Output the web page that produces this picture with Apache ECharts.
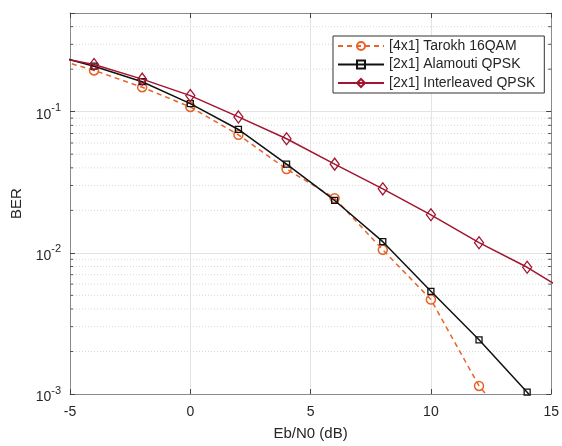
<!DOCTYPE html>
<html>
<head>
<meta charset="utf-8">
<script src="https://cdn.jsdelivr.net/npm/echarts@6/dist/echarts.min.js"></script>
<style>
  html, body { margin: 0; padding: 0; background: #fff; }
  #chart { width: 562px; height: 446px; }
</style>
</head>
<body>
<div id="chart"></div>
<script>
// Eb/N0 sample points (dB); the outer points lie past the axis limits and are clipped
const ebn0 = [-6, -4, -2, 0, 2, 4, 6, 8, 10, 12, 14, 16];

// Bit error rates per scheme
const tarokh16qam = [0.248, 0.196, 0.149, 0.108, 0.0686, 0.0392, 0.0244, 0.0105, 0.00467, 0.00114, 0.00045, 0.0001];
const alamoutiQpsk = [0.26, 0.21, 0.163, 0.114, 0.0748, 0.0425, 0.0235, 0.0120, 0.00534, 0.00242, 0.00103, 0.0004];
const interleavedQpsk = [0.25, 0.216, 0.170, 0.130, 0.0918, 0.0643, 0.0425, 0.0284, 0.0186, 0.0118, 0.0079, 0.0049];

const seriesNames = ['[4x1] Tarokh 16QAM', '[2x1] Alamouti QPSK', '[2x1] Interleaved QPSK'];

// Axis ranges
const xMin = -5, xMax = 15, xStep = 5;
const yMin = 0.001, yMax = 0.5;

// Minor log-scale positions (2..9 within each decade)
const minorVals = [];
[0.001, 0.01, 0.1].forEach(d => {
  for (let k = 2; k <= 9; k++) {
    const v = +(d * k).toPrecision(3);
    if (v < yMax) minorVals.push(v);
  }
});

const font = 'Liberation Sans, Arial, Helvetica, sans-serif';
const axisGrey = '#8a8a8a';
const textCol = '#262626';

function pairs(ys) { return ebn0.map((x, i) => [x, ys[i]]); }

function logLabel(v) {
  const e = Math.log10(v);
  if (Math.abs(e - Math.round(e)) > 1e-6) return '';
  return '{b|10}{s|' + Math.round(e) + '}';
}

const chart = echarts.init(document.getElementById('chart'), null, { renderer: 'canvas' });

const option = {
  backgroundColor: '#fff',
  animation: false,
  grid: { left: 70, top: 13, right: 7, bottom: 49, containLabel: false },
  legend: {
    orient: 'vertical',
    left: 333,
    top: 36,
    padding: [3, 9, 3, 4],
    itemGap: 4.5,
    itemWidth: 46,
    itemHeight: 10,
    backgroundColor: '#fff',
    borderColor: '#333',
    borderWidth: 1,
    borderRadius: 0,
    textStyle: { fontFamily: font, fontSize: 14, lineHeight: 14, color: textCol },
    data: seriesNames
  },
  xAxis: [{
    type: 'value', min: xMin, max: xMax, interval: xStep,
    name: 'Eb/N0 (dB)', nameLocation: 'middle', nameGap: 32,
    nameTextStyle: { fontFamily: font, fontSize: 15, color: textCol },
    axisLine: { show: true, onZero: false, lineStyle: { color: axisGrey, width: 1 } },
    axisTick: { show: true, inside: true, length: 5, lineStyle: { color: '#444' } },
    axisLabel: { fontFamily: font, fontSize: 14, color: textCol, margin: 11 },
    splitLine: { show: true, lineStyle: { color: '#e3e3e3', width: 1 } }
  }, {
    type: 'value', position: 'top', min: xMin, max: xMax, interval: xStep,
    axisLine: { show: true, onZero: false, lineStyle: { color: axisGrey, width: 1 } },
    axisTick: { show: true, inside: true, length: 5, lineStyle: { color: '#444' } },
    axisLabel: { show: false },
    splitLine: { show: false }
  }],
  yAxis: [{
    type: 'log', logBase: 10, min: yMin, max: yMax, position: 'left',
    name: 'BER', nameLocation: 'middle', nameGap: 40,
    nameTextStyle: { fontFamily: font, fontSize: 15, color: textCol },
    axisLine: { show: true, onZero: false, lineStyle: { color: axisGrey, width: 1 } },
    axisTick: { show: true, inside: true, length: 5, lineStyle: { color: '#444' } },
    axisLabel: {
      margin: 9,
      formatter: logLabel,
      rich: {
        b: { fontFamily: font, fontSize: 14, color: textCol, padding: [7, 0, 0, 0] },
        s: { fontFamily: font, fontSize: 11, color: textCol, padding: [0, 0, 7, 0] }
      }
    },
    splitLine: { show: true, lineStyle: { color: '#e3e3e3', width: 1 } }
  }, {
    type: 'log', logBase: 10, min: yMin, max: yMax, position: 'right',
    axisLine: { show: true, onZero: false, lineStyle: { color: axisGrey, width: 1 } },
    axisTick: { show: true, inside: true, length: 5, lineStyle: { color: '#444' } },
    axisLabel: { show: false },
    splitLine: { show: false }
  }],
  series: [
    {
      // dotted minor grid and small minor ticks on both side axes
      type: 'custom',
      silent: true,
      z: 1,
      data: minorVals.map(v => [v]),
      encode: { y: 0 },
      renderItem: function (params, api) {
        const v = api.value(0);
        const p0 = api.coord([xMin, v]);
        const p1 = api.coord([xMax, v]);
        return {
          type: 'group',
          children: [
            { type: 'line', shape: { x1: p0[0], y1: p0[1], x2: p1[0], y2: p1[1] },
              style: { stroke: '#d9d9d9', lineWidth: 1, lineDash: [1, 2] } },
            { type: 'line', shape: { x1: p0[0], y1: p0[1], x2: p0[0] + 3, y2: p0[1] },
              style: { stroke: '#555', lineWidth: 1 } },
            { type: 'line', shape: { x1: p1[0], y1: p1[1], x2: p1[0] - 3, y2: p1[1] },
              style: { stroke: '#555', lineWidth: 1 } }
          ]
        };
      }
    },
    {
      name: seriesNames[0], type: 'line', data: pairs(tarokh16qam), z: 3,
      clip: true, symbol: 'circle', symbolSize: 9,
      lineStyle: { color: '#E8622A', width: 1.5, type: [5, 4] },
      itemStyle: { color: 'rgba(255,255,255,0)', borderColor: '#E8622A', borderWidth: 1.5 }
    },
    {
      name: seriesNames[1], type: 'line', data: pairs(alamoutiQpsk), z: 4,
      clip: true, symbol: 'rect', symbolSize: 6,
      lineStyle: { color: '#111', width: 1.5 },
      itemStyle: { color: 'rgba(255,255,255,0)', borderColor: '#111', borderWidth: 1.3 }
    },
    {
      name: seriesNames[2], type: 'line', data: pairs(interleavedQpsk), z: 5,
      clip: true, symbol: 'diamond', symbolSize: [9, 12],
      lineStyle: { color: '#A2142F', width: 1.5 },
      itemStyle: { color: 'rgba(255,255,255,0)', borderColor: '#A2142F', borderWidth: 1.3 }
    }
  ]
};

chart.setOption(option);
</script>
</body>
</html>
